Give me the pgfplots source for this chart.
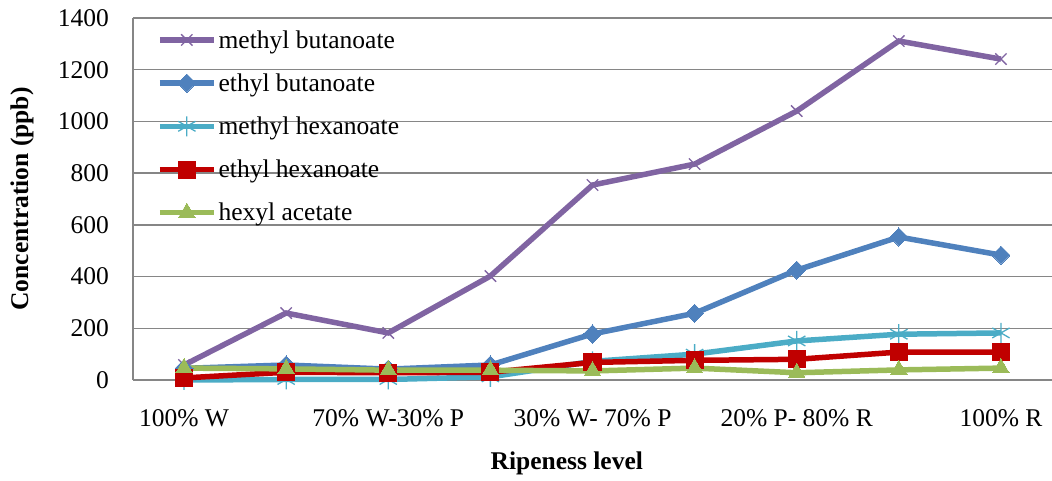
\documentclass[border=0pt]{standalone}
\usepackage{fontspec}
\setmainfont{Liberation Serif}
\usepackage{pgfplots}
\pgfplotsset{compat=1.18}

\definecolor{cmb}{RGB}{128,100,162}
\definecolor{ceb}{RGB}{79,129,189}
\definecolor{cmh}{RGB}{75,172,198}
\definecolor{ceh}{RGB}{192,0,0}
\definecolor{cha}{RGB}{155,187,89}
\definecolor{gridgray}{RGB}{134,134,134}

\begin{document}
\begin{tikzpicture}
\useasboundingbox (-133pt,-101pt) rectangle (919pt,380pt);
\begin{axis}[
  scale only axis, width=919pt, height=362pt,
  xmin=-0.5, xmax=8.5, ymin=0, ymax=1400,
  xtick={0,2,4,6,8},
  xticklabels={100\% W, 70\% W-30\% P, 30\% W- 70\% P, 20\% P- 80\% R, 100\% R},
  ytick={0,200,...,1400},
  /pgf/number format/assume math mode=true,
  /pgf/number format/1000 sep={},
  axis x line*=bottom, axis y line*=left,
  axis line style={draw=gridgray, line width=1.5pt},
  ymajorgrids, major grid style={draw=gridgray, line width=1.5pt},
  major tick length=0pt,
  clip=false,
  font=\fontsize{25.5}{30}\selectfont,
  xticklabel style={anchor=north, inner sep=0pt, yshift=-29pt},
  yticklabel style={anchor=east, inner sep=0pt, xshift=-24pt},
  xlabel={\textbf{Ripeness level}},
  ylabel={\textbf{Concentration (ppb)}},
  xlabel style={at={(axis description cs:0.472,-0.229)}, anchor=center},
  ylabel style={at={(axis description cs:-0.1208,0.5)}, anchor=center},
  legend cell align=left,
  legend image code/.code={\draw[mark repeat=2,mark phase=2] plot coordinates {(0pt,0pt) (27pt,0pt) (54pt,0pt)};},
  legend style={draw=none, fill=none, inner sep=0pt,
    at={(axis description cs:0.026,0.972)}, anchor=north west,
    row sep=20pt, font=\fontsize{25.5}{30}\selectfont},
  every axis plot/.append style={line width=5.5pt},
]
\addplot[color=cmb, mark=x, mark size=8pt, mark options={line width=1.3pt}]
  coordinates {(0,58) (1,259) (2,182) (3,402) (4,754) (5,835) (6,1040) (7,1311) (8,1241)};
\addlegendentry{methyl butanoate}
\addplot[color=ceb, mark=square*, mark size=6.4pt, mark options={rotate=45, line width=0pt}]
  coordinates {(0,45) (1,58) (2,42) (3,58) (4,178) (5,258) (6,425) (7,553) (8,483)};
\addlegendentry{ethyl butanoate}
\addplot[color=cmh, mark=asterisk, mark size=10pt, mark options={line width=1.3pt}]
  coordinates {(0,0) (1,2) (2,2) (3,12) (4,72) (5,100) (6,151) (7,177) (8,182)};
\addlegendentry{methyl hexanoate}
\addplot[color=ceh, mark=square*, mark size=8.5pt, mark options={line width=0pt}]
  coordinates {(0,8) (1,30) (2,28) (3,30) (4,68) (5,76) (6,80) (7,108) (8,108)};
\addlegendentry{ethyl hexanoate}
\addplot[color=cha, mark=triangle*, mark size=9.5pt, mark options={line width=0pt}]
  coordinates {(0,46) (1,43) (2,38) (3,38) (4,35) (5,46) (6,28) (7,39) (8,46)};
\addlegendentry{hexyl acetate}
\end{axis}
\end{tikzpicture}
\end{document}
